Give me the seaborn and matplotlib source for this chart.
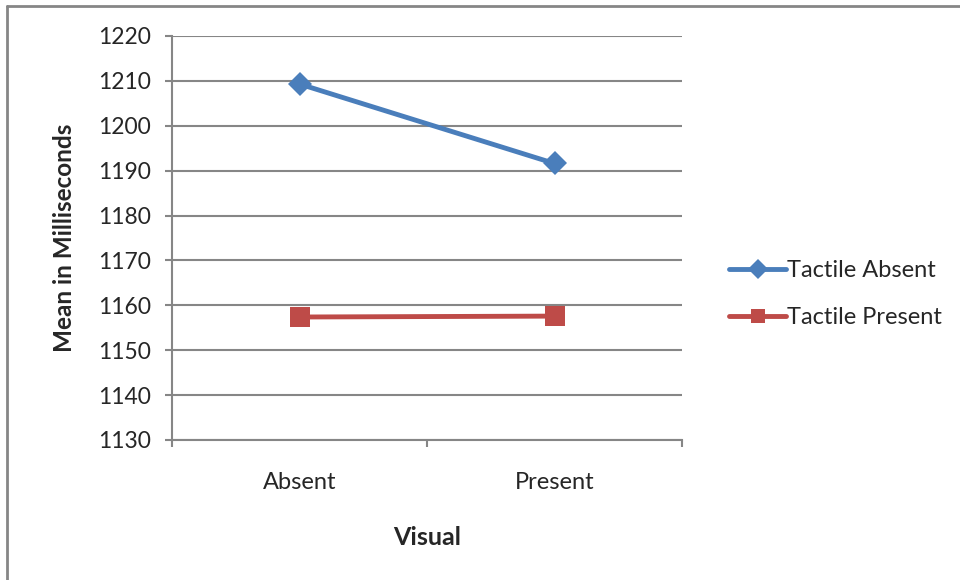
import pandas as pd
import matplotlib.pyplot as plt
import seaborn as sns
from matplotlib.lines import Line2D

# data
visual = ["Absent", "Present"]
tactile_absent = [1209.3, 1191.6]
tactile_present = [1157.4, 1157.6]
yticks = list(range(1130, 1221, 10))

df = pd.DataFrame({
    "Visual": visual * 2,
    "Mean": tactile_absent + tactile_present,
    "Tactile": ["Tactile Absent"] * 2 + ["Tactile Present"] * 2,
})

sns.set_theme(style="white")
plt.rcParams["font.family"] = ["Lato", "DejaVu Sans"]

grid_col = "#868686"
fig = plt.figure(figsize=(9.6, 5.8), dpi=100)
ax = fig.add_axes([172 / 960, 1 - 440 / 580, 510 / 960, 404 / 580])

sns.lineplot(
    data=df, x="Visual", y="Mean", hue="Tactile", style="Tactile",
    palette={"Tactile Absent": "#4A7EBB", "Tactile Present": "#BE4B48"},
    markers={"Tactile Absent": "D", "Tactile Present": "s"},
    dashes=False, linewidth=3.5, markersize=14, markeredgewidth=0,
    ax=ax,
)
# diamond a bit smaller than the square
ax.lines[0].set_markersize(12)

ax.set_xlim(-0.5, 1.5)
ax.set_ylim(1130, 1220)
ax.set_yticks(yticks)
ax.yaxis.grid(True, color=grid_col, linewidth=1.5)
ax.set_axisbelow(True)

ax.set_xticks([0, 1])
ax.set_xticklabels(visual)
ax.set_xticks([-0.5, 0.5, 1.5], minor=True)
ax.tick_params(axis="x", which="major", length=0, pad=23, labelsize=17)
ax.tick_params(axis="x", which="minor", length=5, width=1.5, color=grid_col,
               direction="out", bottom=True)
ax.tick_params(axis="y", length=5, width=1.5, color=grid_col, direction="out",
               left=True, labelsize=16.5, pad=10)

for s in ["top", "right"]:
    ax.spines[s].set_visible(False)
for s in ["left", "bottom"]:
    ax.spines[s].set_color(grid_col)
    ax.spines[s].set_linewidth(1.5)

ax.set_xlabel("Visual", fontsize=18, fontweight="bold", labelpad=24)
ax.set_ylabel("Mean in Milliseconds", fontsize=17.5, fontweight="bold", labelpad=16)

handles, labels = ax.get_legend_handles_labels()
for h in handles:
    h.set_markersize(10)
ax.legend_.remove()
fig.legend(handles, labels, loc="center left", bbox_to_anchor=(720 / 960, 1 - 294 / 580),
           frameon=False, fontsize=17, handlelength=2.4, handletextpad=0.05,
           labelspacing=1.1, borderaxespad=0)

# outer chart border (only left and top edges show in the crop)
fig.add_artist(Line2D([7 / 960, 7 / 960], [0, 1 - 6 / 580], transform=fig.transFigure,
                      color=grid_col, linewidth=2))
fig.add_artist(Line2D([7 / 960, 1], [1 - 6 / 580, 1 - 6 / 580], transform=fig.transFigure,
                      color=grid_col, linewidth=2))

fig.savefig("out.png", dpi=100)
